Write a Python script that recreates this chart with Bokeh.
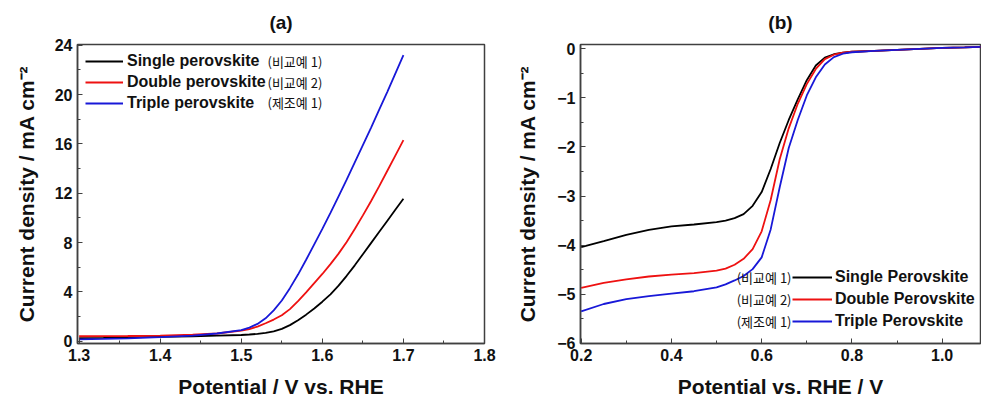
from bokeh.plotting import figure
from bokeh.layouts import row
from bokeh.models import Label, SingleIntervalTicker, Range1d, PrintfTickFormatter, Title
from bokeh.embed import file_html
from bokeh.resources import INLINE

# ---------------- data: panel (a) OER LSV ----------------
a_x = [1.30, 1.33, 1.36, 1.40, 1.44, 1.47, 1.50,
       1.51, 1.52, 1.53, 1.54, 1.55, 1.56, 1.57, 1.58, 1.59, 1.60,
       1.61, 1.62, 1.63, 1.64, 1.65, 1.66, 1.67, 1.68, 1.69, 1.70]
a_single = [0.25, 0.27, 0.30, 0.35, 0.40, 0.45, 0.50,
            0.54, 0.59, 0.67, 0.80, 1.00, 1.30, 1.70, 2.15, 2.65, 3.20,
            3.80, 4.50, 5.30, 6.15, 7.05, 7.95, 8.85, 9.75, 10.65, 11.55]
a_double = [0.40, 0.41, 0.42, 0.45, 0.52, 0.62, 0.85,
            0.98, 1.18, 1.45, 1.75, 2.10, 2.60, 3.25, 3.95, 4.70, 5.45,
            6.25, 7.10, 8.05, 9.10, 10.20, 11.35, 12.55, 13.80, 15.05, 16.30]
a_triple = [0.15, 0.18, 0.22, 0.32, 0.45, 0.62, 0.90,
            1.10, 1.40, 1.85, 2.50, 3.30, 4.30, 5.40, 6.60, 7.85, 9.10,
            10.40, 11.75, 13.10, 14.50, 15.90, 17.30, 18.75, 20.20, 21.70, 23.20]

# ---------------- data: panel (b) ORR LSV ----------------
b_x = [0.20, 0.25, 0.30, 0.35, 0.40, 0.45, 0.50,
       0.52, 0.54, 0.56, 0.58, 0.60, 0.62, 0.64, 0.66, 0.68, 0.70,
       0.72, 0.74, 0.76, 0.78, 0.80,
       0.85, 0.90, 0.95, 1.00, 1.05, 1.09]
b_single = [-4.04, -3.92, -3.79, -3.69, -3.62, -3.58, -3.53,
            -3.50, -3.45, -3.37, -3.20, -2.92, -2.45, -1.92, -1.45, -1.03, -0.64,
            -0.34, -0.18, -0.11, -0.08, -0.06,
            -0.04, -0.02, 0.00, 0.02, 0.03, 0.04]
b_double = [-4.87, -4.77, -4.70, -4.64, -4.60, -4.57, -4.52,
            -4.48, -4.40, -4.28, -4.08, -3.72, -3.08, -2.25, -1.62, -1.12, -0.72,
            -0.41, -0.21, -0.12, -0.08, -0.06,
            -0.04, -0.02, 0.00, 0.02, 0.03, 0.04]
b_triple = [-5.35, -5.20, -5.10, -5.04, -4.99, -4.94, -4.86,
            -4.80, -4.72, -4.63, -4.49, -4.25, -3.68, -2.82, -2.02, -1.45, -0.95,
            -0.58, -0.32, -0.17, -0.10, -0.07,
            -0.04, -0.02, 0.00, 0.02, 0.03, 0.04]

a_labels = ["Single perovskite", "Double perovskite", "Triple perovskite"]
b_labels = ["Single Perovskite", "Double Perovskite", "Triple Perovskite"]
kr_labels = ["(비교예 1)", "(비교예 2)", "(제조예 1)"]
colors = ["#000000", "#ee1111", "#1818d8"]

FONT = "Liberation Sans"
FRAME = "#404040"


def style(p, xint, yint, xfmt, ylab_standoff):
    p.outline_line_color = FRAME
    p.outline_line_width = 1.5
    p.grid.visible = False
    p.xaxis.ticker = SingleIntervalTicker(interval=xint, num_minor_ticks=2)
    p.yaxis.ticker = SingleIntervalTicker(interval=yint, num_minor_ticks=2)
    p.xaxis.formatter = PrintfTickFormatter(format=xfmt)
    for ax in (p.xaxis[0], p.yaxis[0]):
        ax.axis_line_color = FRAME
        ax.axis_line_width = 1.5
        ax.major_tick_in = 5
        ax.major_tick_out = 0
        ax.minor_tick_in = 3
        ax.minor_tick_out = 0
        ax.major_tick_line_color = FRAME
        ax.minor_tick_line_color = FRAME
        ax.major_label_text_font = FONT
        ax.major_label_text_font_style = "bold"
        ax.major_label_text_font_size = "16px"
        ax.major_label_text_color = "#111111"
        ax.major_label_standoff = 5
        ax.axis_label_text_font = FONT
        ax.axis_label_text_font_style = "bold"
        ax.axis_label_text_font_size = "21px"
        ax.axis_label_text_color = "#111111"
    p.xaxis.axis_label_standoff = 11
    p.yaxis.axis_label_standoff = ylab_standoff
    # thin spacer between the frame and the title
    p.add_layout(Title(text=" ", text_font_size="4px", standoff=0), "above")
    p.title.align = "center"
    p.title.text_font = FONT
    p.title.text_font_style = "bold"
    p.title.text_font_size = "19px"
    p.title.text_color = "#111111"
    p.legend.border_line_color = None
    p.legend.background_fill_alpha = 0
    p.legend.label_text_font = FONT
    p.legend.label_text_font_style = "bold"
    p.legend.label_text_font_size = "16px"
    p.legend.label_text_color = "#111111"
    p.legend.label_height = 20
    p.legend.glyph_height = 20
    p.legend.margin = 0
    p.legend.padding = 0


# ---------------- panel (a) ----------------
pa = figure(width=500, height=403, output_backend="svg", toolbar_location=None,
            x_range=Range1d(1.298, 1.800), y_range=Range1d(-0.19, 24.06),
            title="(a)", min_border_left=77, min_border_right=16,
            min_border_top=44, min_border_bottom=60)
for ys, lab, c in zip([a_single, a_double, a_triple], a_labels, colors):
    pa.line(a_x, ys, line_color=c, line_width=1.8, legend_label=lab)
pa.xaxis.axis_label = "Potential / V vs. RHE"
pa.yaxis.axis_label = "Current density / mA cm\u207b\u00b2"
style(pa, 0.1, 4, "%.1f", 14)
pa.legend.location = (8, 230)
pa.legend.spacing = 1
pa.legend.glyph_width = 38
pa.legend.label_standoff = 4
for i, t in enumerate(kr_labels):
    pa.add_layout(Label(x=190, y=282 - 20.5 * i, x_units="screen", y_units="screen",
                        text=t, text_font="Noto Sans CJK KR", text_font_size="13px",
                        text_color="#111111", text_baseline="middle"))

# ---------------- panel (b) ----------------
pb = figure(width=481, height=403, output_backend="svg", toolbar_location=None,
            x_range=Range1d(0.1985, 1.085), y_range=Range1d(-6.005, 0.088),
            title="(b)", min_border_left=80, min_border_right=1,
            min_border_top=44, min_border_bottom=60)
for ys, lab, c in zip([b_single, b_double, b_triple], b_labels, colors):
    pb.line(b_x, ys, line_color=c, line_width=1.8, legend_label=lab)
pb.xaxis.axis_label = "Potential vs. RHE / V"
pb.yaxis.axis_label = "Current density / mA cm\u207b\u00b2"
style(pb, 0.2, 1, "%.1f", 15)
pb.legend.location = (212, 12)
pb.legend.spacing = 2
pb.legend.glyph_width = 40
pb.legend.label_standoff = 3
for i, t in enumerate(kr_labels):
    pb.add_layout(Label(x=211, y=66 - 22 * i, x_units="screen", y_units="screen",
                        text=t, text_font="Noto Sans CJK KR", text_font_size="13px",
                        text_color="#111111", text_baseline="middle",
                        text_align="right"))

layout = row(pa, pb)
open("out.html", "w").write(file_html(layout, INLINE))
